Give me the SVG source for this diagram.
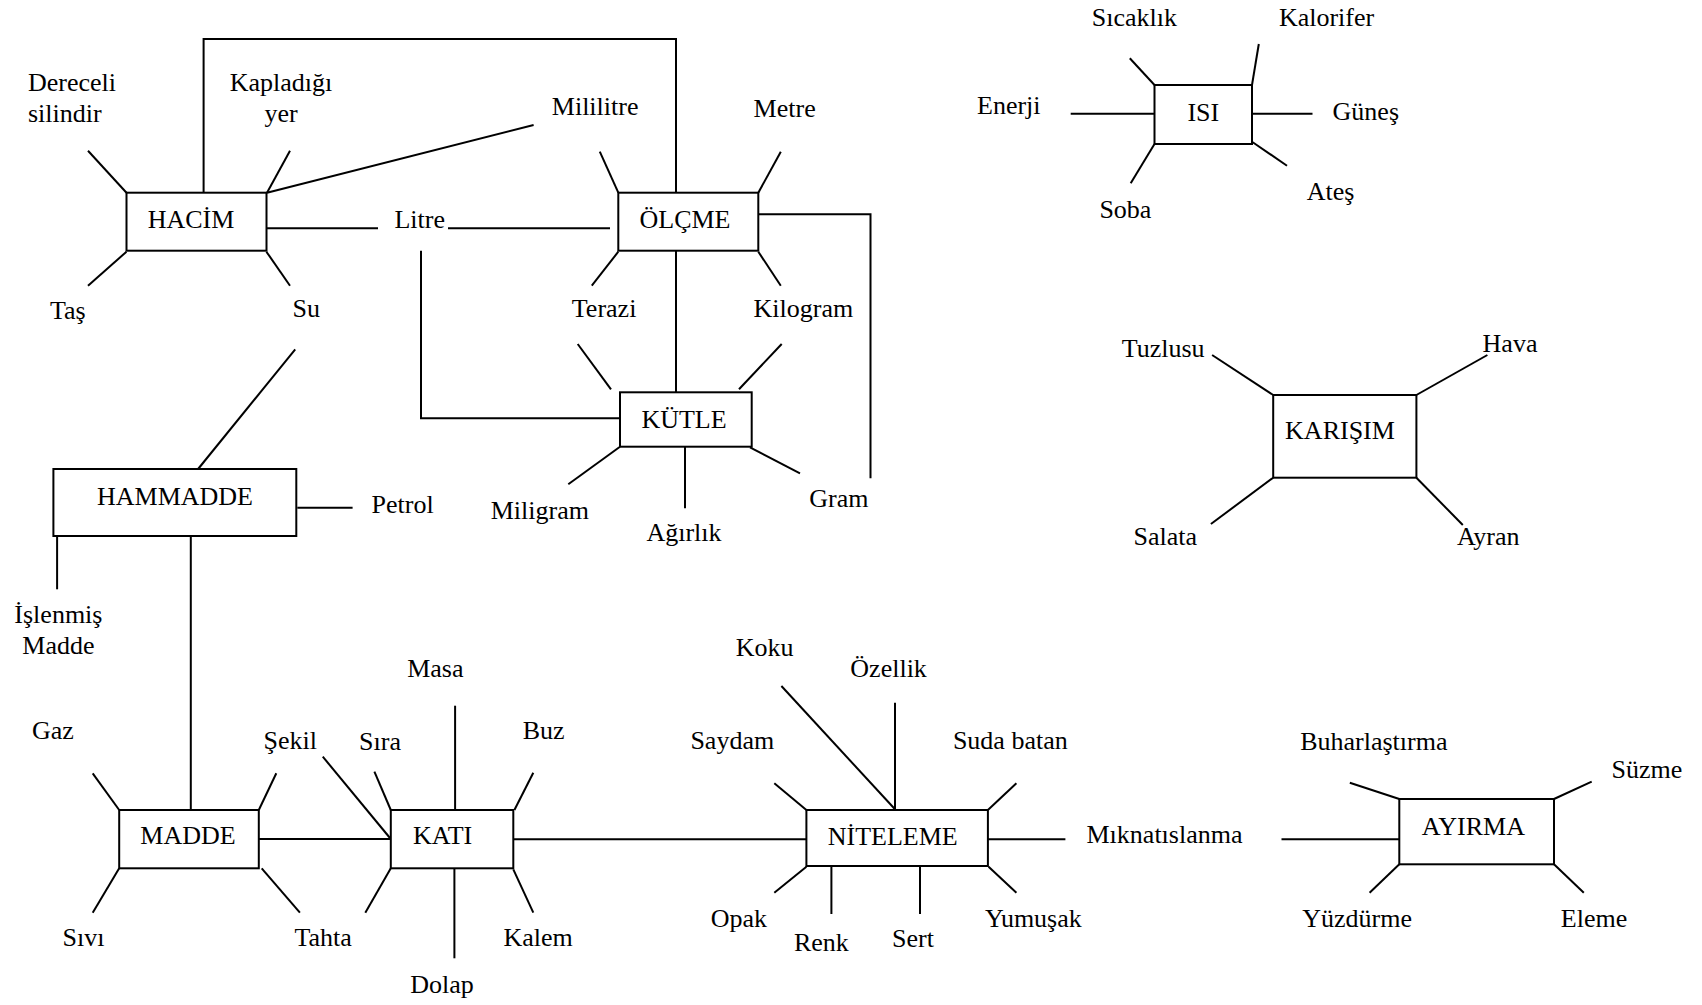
<svg xmlns="http://www.w3.org/2000/svg" width="1702" height="1005" viewBox="0 0 1702 1005">
  <style>
    .box { fill: #ffffff; stroke: #000000; stroke-width: 2; }
    .ln { fill: none; stroke: #000000; stroke-width: 2; stroke-linecap: butt; }
    text { font-family: "Liberation Serif", "Times New Roman", serif; font-size: 26px; fill: #000000; }
    .c { text-anchor: middle; }
  </style>
  <rect x="0" y="0" width="1702" height="1005" fill="#ffffff"/>

  <!-- connectors and spokes -->
  <g id="connectors">
    <!-- HACİM spokes and links -->
    <line class="ln" x1="88" y1="150.7" x2="126.5" y2="192.7"/>
    <line class="ln" x1="290" y1="150.7" x2="267" y2="192.7"/>
    <line class="ln" x1="267" y1="192.7" x2="533.6" y2="125"/>
    <line class="ln" x1="267" y1="228.3" x2="378" y2="228.3"/>
    <line class="ln" x1="448" y1="228.3" x2="610" y2="228.3"/>
    <line class="ln" x1="126.5" y1="251.7" x2="88" y2="285.7"/>
    <line class="ln" x1="266.4" y1="251.7" x2="290" y2="285.7"/>
    <polyline class="ln" points="203.6,192.7 203.6,39 676,39 676,192.7"/>
    <polyline class="ln" points="421,250.7 421,418.3 620,418.3"/>
    <line class="ln" x1="295.2" y1="349.3" x2="198.1" y2="469"/>

    <!-- ÖLÇME spokes and links -->
    <line class="ln" x1="599.8" y1="151.7" x2="618.3" y2="192.7"/>
    <line class="ln" x1="780.8" y1="151.7" x2="758.3" y2="192.7"/>
    <polyline class="ln" points="758.3,214.3 870.5,214.3 870.5,478.3"/>
    <line class="ln" x1="618.3" y1="251.7" x2="591.8" y2="285.7"/>
    <line class="ln" x1="758.3" y1="251.7" x2="780.8" y2="285.7"/>
    <line class="ln" x1="676" y1="250.7" x2="676" y2="392.3"/>

    <!-- KÜTLE spokes -->
    <line class="ln" x1="577.7" y1="344" x2="611" y2="389.3"/>
    <line class="ln" x1="781.7" y1="344" x2="739" y2="389.3"/>
    <line class="ln" x1="620" y1="446.7" x2="568.3" y2="484.3"/>
    <line class="ln" x1="685" y1="446.7" x2="685" y2="508.3"/>
    <line class="ln" x1="750" y1="447.3" x2="800" y2="473.3"/>

    <!-- ISI spokes -->
    <line class="ln" x1="1070.7" y1="113.7" x2="1154.5" y2="113.7"/>
    <line class="ln" x1="1129.8" y1="58.3" x2="1154.5" y2="85"/>
    <line class="ln" x1="1258.8" y1="44" x2="1252" y2="85"/>
    <line class="ln" x1="1252" y1="113.7" x2="1312.5" y2="113.7"/>
    <line class="ln" x1="1154.5" y1="144" x2="1130.7" y2="183.3"/>
    <line class="ln" x1="1252" y1="141.7" x2="1287" y2="165.7"/>

    <!-- KARIŞIM spokes -->
    <line class="ln" x1="1212.1" y1="355" x2="1273.2" y2="395"/>
    <line class="ln" x1="1487.4" y1="355" x2="1416.4" y2="395"/>
    <line class="ln" x1="1273.2" y1="477.7" x2="1210.9" y2="524"/>
    <line class="ln" x1="1416.4" y1="477.7" x2="1462.8" y2="525"/>

    <!-- HAMMADDE spokes and links -->
    <line class="ln" x1="297.3" y1="507.7" x2="352.6" y2="507.7"/>
    <line class="ln" x1="57.1" y1="536.7" x2="57.1" y2="589.3"/>
    <line class="ln" x1="190.8" y1="536" x2="190.8" y2="810"/>

    <!-- MADDE spokes and links -->
    <line class="ln" x1="92.7" y1="773.3" x2="119.2" y2="810"/>
    <line class="ln" x1="276.3" y1="773.3" x2="258.8" y2="810"/>
    <line class="ln" x1="119.2" y1="868.3" x2="92.7" y2="912.7"/>
    <line class="ln" x1="261.7" y1="868.3" x2="299.9" y2="912.7"/>
    <line class="ln" x1="258.8" y1="839" x2="390.8" y2="839"/>

    <!-- KATI spokes and links -->
    <line class="ln" x1="322.8" y1="756.7" x2="390.8" y2="839"/>
    <line class="ln" x1="374.4" y1="771.7" x2="390.8" y2="810"/>
    <line class="ln" x1="455.1" y1="705.7" x2="455.1" y2="810"/>
    <line class="ln" x1="533.3" y1="772.7" x2="514.4" y2="810"/>
    <line class="ln" x1="390.8" y1="868.3" x2="365.3" y2="912.7"/>
    <line class="ln" x1="454.4" y1="868.3" x2="454.4" y2="958.3"/>
    <line class="ln" x1="513.3" y1="869.3" x2="533.3" y2="912.7"/>
    <line class="ln" x1="513.3" y1="839.3" x2="806.4" y2="839.3"/>

    <!-- NİTELEME spokes -->
    <line class="ln" x1="781.4" y1="686" x2="895" y2="809.3"/>
    <line class="ln" x1="895" y1="702.7" x2="895" y2="809.3"/>
    <line class="ln" x1="774.3" y1="783.3" x2="806.4" y2="810"/>
    <line class="ln" x1="1016.4" y1="783.3" x2="987.9" y2="810"/>
    <line class="ln" x1="987.9" y1="839.3" x2="1065.4" y2="839.3"/>
    <line class="ln" x1="806.4" y1="866.7" x2="774.3" y2="892.7"/>
    <line class="ln" x1="831.4" y1="865" x2="831.4" y2="914"/>
    <line class="ln" x1="920" y1="866.7" x2="920" y2="914"/>
    <line class="ln" x1="988.6" y1="866.7" x2="1016.4" y2="892.7"/>

    <!-- AYIRMA spokes -->
    <line class="ln" x1="1281.5" y1="839.3" x2="1399.3" y2="839.3"/>
    <line class="ln" x1="1349.8" y1="782.7" x2="1399.3" y2="799"/>
    <line class="ln" x1="1591.7" y1="781.7" x2="1554" y2="799"/>
    <line class="ln" x1="1399.3" y1="864.3" x2="1369.6" y2="892.7"/>
    <line class="ln" x1="1554" y1="864.3" x2="1583.8" y2="892.7"/>
  </g>

  <!-- concept boxes -->
  <g id="node-hacim">
    <rect class="box" x="126.5" y="192.7" width="140" height="58"/>
    <text class="c" x="191" y="228.3">HACİM</text>
  </g>
  <g id="node-olcme">
    <rect class="box" x="618.3" y="192.7" width="140" height="58"/>
    <text class="c" x="685" y="228.3">ÖLÇME</text>
  </g>
  <g id="node-kutle">
    <rect class="box" x="620" y="392.3" width="131.7" height="54.4"/>
    <text class="c" x="684" y="428.3">KÜTLE</text>
  </g>
  <g id="node-isi">
    <rect class="box" x="1154.5" y="85" width="97.5" height="59"/>
    <text class="c" x="1203.3" y="120.7">ISI</text>
  </g>
  <g id="node-karisim">
    <rect class="box" x="1273.2" y="395" width="143.2" height="82.7"/>
    <text class="c" x="1340" y="439.3">KARIŞIM</text>
  </g>
  <g id="node-hammadde">
    <rect class="box" x="53.4" y="469" width="242.9" height="67"/>
    <text class="c" x="175" y="505">HAMMADDE</text>
  </g>
  <g id="node-madde">
    <rect class="box" x="119.2" y="810" width="139.6" height="58.3"/>
    <text class="c" x="188" y="844.3">MADDE</text>
  </g>
  <g id="node-kati">
    <rect class="box" x="390.8" y="810" width="122.5" height="58.3"/>
    <text class="c" x="442.6" y="844.3">KATI</text>
  </g>
  <g id="node-niteleme">
    <rect class="box" x="806.4" y="810" width="181.5" height="56"/>
    <text class="c" x="892.7" y="845">NİTELEME</text>
  </g>
  <g id="node-ayirma">
    <rect class="box" x="1399.3" y="799" width="154.7" height="65.3"/>
    <text class="c" x="1473.4" y="835">AYIRMA</text>
  </g>

  <!-- leaf terms -->
  <g id="terms">
    <text x="28" y="90.7">Dereceli</text>
    <text x="28" y="121.7">silindir</text>
    <text class="c" x="281" y="90.7">Kapladığı</text>
    <text class="c" x="281" y="121.7">yer</text>
    <text x="50" y="319.3">Taş</text>
    <text x="292.6" y="316.7">Su</text>
    <text x="394.4" y="228.3">Litre</text>
    <text x="551.8" y="115">Mililitre</text>
    <text x="753.6" y="117.3">Metre</text>
    <text x="571.8" y="316.7">Terazi</text>
    <text x="753.6" y="316.7">Kilogram</text>
    <text x="490.7" y="519">Miligram</text>
    <text class="c" x="684" y="540.7">Ağırlık</text>
    <text x="809.3" y="507.3">Gram</text>
    <text x="977" y="114.3">Enerji</text>
    <text x="1091.8" y="25.7">Sıcaklık</text>
    <text x="1278.9" y="25.7">Kalorifer</text>
    <text x="1332.6" y="120">Güneş</text>
    <text x="1099.4" y="218.3">Soba</text>
    <text x="1306.7" y="200">Ateş</text>
    <text x="1121.7" y="357.3">Tuzlusu</text>
    <text x="1482.6" y="351.7">Hava</text>
    <text x="1133.6" y="545">Salata</text>
    <text x="1456.9" y="545">Ayran</text>
    <text x="371.5" y="512.7">Petrol</text>
    <text class="c" x="58.4" y="623.3">İşlenmiş</text>
    <text class="c" x="58.4" y="654">Madde</text>
    <text x="32" y="739.3">Gaz</text>
    <text x="263.5" y="749.3">Şekil</text>
    <text x="359.1" y="750">Sıra</text>
    <text class="c" x="435.3" y="676.7">Masa</text>
    <text x="522.7" y="739.3">Buz</text>
    <text x="62.5" y="946">Sıvı</text>
    <text x="294.4" y="946">Tahta</text>
    <text class="c" x="442" y="993.3">Dolap</text>
    <text x="503.5" y="946">Kalem</text>
    <text x="735.7" y="656">Koku</text>
    <text class="c" x="888.6" y="676.7">Özellik</text>
    <text x="690.4" y="749.3">Saydam</text>
    <text x="952.9" y="749.3">Suda batan</text>
    <text x="1086.5" y="842.7">Mıknatıslanma</text>
    <text x="710.7" y="927.3">Opak</text>
    <text x="793.9" y="950.7">Renk</text>
    <text x="892.1" y="946.7">Sert</text>
    <text x="985" y="927.3">Yumuşak</text>
    <text x="1300.2" y="750">Buharlaştırma</text>
    <text x="1611.6" y="778.3">Süzme</text>
    <text x="1302.2" y="926.7">Yüzdürme</text>
    <text x="1560.8" y="926.7">Eleme</text>
  </g>
</svg>
